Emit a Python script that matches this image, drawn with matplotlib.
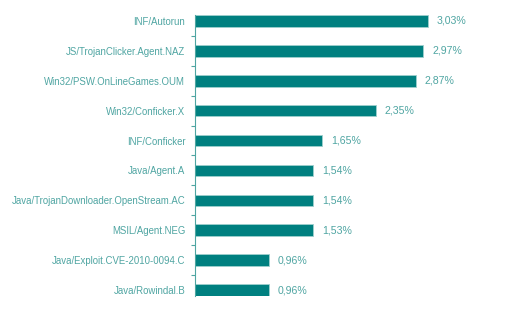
import numpy as np
import matplotlib.pyplot as plt

# Data
names = ['INF/Autorun', 'JS/TrojanClicker.Agent.NAZ', 'Win32/PSW.OnLineGames.OUM',
         'Win32/Conficker.X', 'INF/Conficker', 'Java/Agent.A',
         'Java/TrojanDownloader.OpenStream.AC', 'MSIL/Agent.NEG',
         'Java/Exploit.CVE-2010-0094.C', 'Java/Rowindal.B']
shares = [3.03, 2.97, 2.87, 2.35, 1.65, 1.54, 1.54, 1.53, 0.96, 0.96]

bar_color = '#008080'
text_color = '#4fa5a2'

plt.rcParams['font.family'] = ['Liberation Sans', 'DejaVu Sans']

fig = plt.figure(figsize=(5.26, 3.36), dpi=100)
ax = fig.add_axes([195 / 526, 1 - 296 / 336, 315 / 526, 281 / 336])

y = np.arange(len(names))
ax.barh(y, shares, height=0.39, color=bar_color, edgecolor='#9fd0ce', linewidth=0.6)

for yi, v in zip(y, shares):
    ax.text(v + 0.12, yi, f'{v:.2f}%'.replace('.', ','), va='center', ha='left',
            fontsize=7.6, color=text_color)

ax.set_xlim(0, 4.1)
ax.set_ylim(len(names) - 1 + 0.2, -0.2)

ax.set_yticks(y)
ax.set_yticklabels(names, fontsize=6.9, color=text_color)
ax.tick_params(axis='y', which='major', length=0, pad=7)
ax.set_yticks(np.arange(0.5, len(names) - 1, 1), minor=True)
ax.tick_params(axis='y', which='minor', length=3, color=text_color, width=0.8)
ax.set_xticks([])

for s in ['top', 'right', 'bottom']:
    ax.spines[s].set_visible(False)
ax.spines['left'].set_color(text_color)
ax.spines['left'].set_linewidth(0.8)

fig.savefig('out.png', dpi=100)
